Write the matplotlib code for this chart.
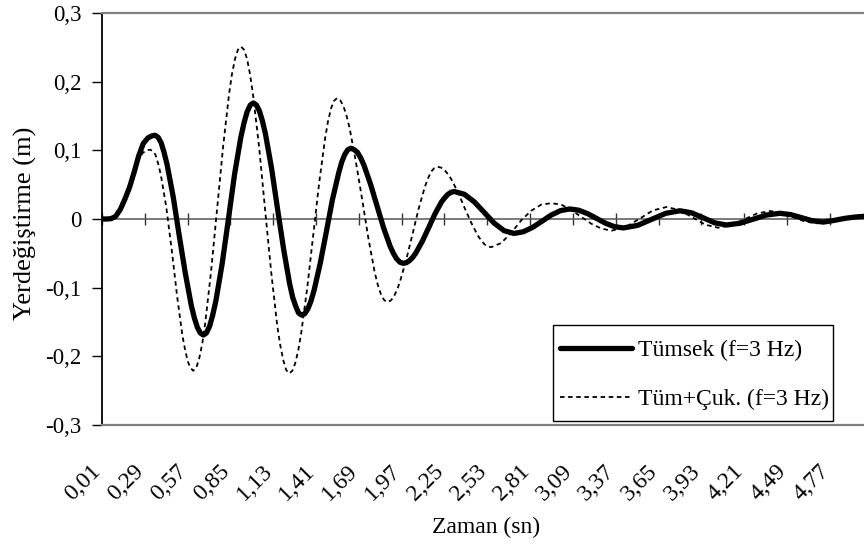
import matplotlib
matplotlib.use("Agg")
import matplotlib.pyplot as plt
import matplotlib.transforms as mtransforms
from matplotlib.patches import Rectangle

plt.rcParams['font.family'] = ['Liberation Serif', 'DejaVu Serif']

# Tümsek (bump) response, f = 3 Hz
t_tumsek = [0.01, 0.04, 0.07, 0.10, 0.13, 0.16, 0.19, 0.22, 0.25, 0.28, 0.31, 0.335,
            0.357, 0.377, 0.397, 0.416, 0.436, 0.476, 0.515, 0.555, 0.594, 0.614, 0.634, 0.653,
            0.673, 0.693, 0.714, 0.734, 0.755, 0.796, 0.837, 0.877, 0.918, 0.939, 0.959, 0.980,
            1.0, 1.020, 1.040, 1.059, 1.079, 1.119, 1.158, 1.198, 1.237, 1.257, 1.277, 1.296,
            1.316, 1.336, 1.356, 1.376, 1.397, 1.437, 1.477, 1.517, 1.558, 1.578, 1.598, 1.618,
            1.638, 1.659, 1.681, 1.702, 1.724, 1.766, 1.809, 1.852, 1.895, 1.916, 1.937, 1.959,
            1.98, 2.001, 2.022, 2.043, 2.064, 2.106, 2.148, 2.189, 2.231, 2.252, 2.273, 2.294,
            2.315, 2.38, 2.445, 2.51, 2.575, 2.64,
            2.705, 2.766, 2.827, 2.888, 2.948, 3.009,
            3.07, 3.128, 3.187, 3.245, 3.303, 3.362,
            3.42, 3.513, 3.605, 3.698, 3.79, 3.866, 3.943, 4.019,
            4.095, 4.182, 4.27, 4.357, 4.444, 4.515, 4.586, 4.657,
            4.728, 4.80, 4.87, 4.94, 5.0]
y_tumsek = [0, 0, 0.0005, 0.004, 0.014, 0.029, 0.046, 0.068, 0.092, 0.110, 0.118, 0.121,
            0.122, 0.119, 0.111, 0.097, 0.079, 0.032, -0.024, -0.079, -0.126, -0.144, -0.158, -0.166,
            -0.169, -0.166, -0.156, -0.140, -0.119, -0.065, 0.0, 0.065, 0.119, 0.140, 0.156, 0.166,
            0.169, 0.166, 0.157, 0.143, 0.124, 0.074, 0.015, -0.044, -0.094, -0.114, -0.127, -0.137,
            -0.140, -0.138, -0.131, -0.120, -0.104, -0.065, -0.019, 0.028, 0.067, 0.083, 0.094, 0.101,
            0.103, 0.101, 0.097, 0.089, 0.078, 0.051, 0.019, -0.013, -0.040, -0.050, -0.058, -0.063,
            -0.0645, -0.0636, -0.0605, -0.0557, -0.049, -0.032, -0.012, 0.008, 0.025, 0.031, 0.036, 0.039,
            0.040, 0.036, 0.025, 0.0095, -0.006, -0.017,
            -0.021, -0.0186, -0.0121, -0.0032, 0.0057, 0.0122,
            0.0146, 0.0128, 0.0077, 0.0008, -0.0061, -0.0112,
            -0.013, -0.0093, -0.0005, 0.0083, 0.012, 0.0090, 0.0017, -0.0057,
            -0.0087, -0.0062, -0.0002, 0.0058, 0.0083, 0.0064, 0.0019, -0.0026,
            -0.0045, -0.002, 0.001, 0.003, 0.004]

# Tümsek + Çukur (bump + pit) response, f = 3 Hz
t_tumcuk = [0.01, 0.04, 0.07, 0.10, 0.13, 0.16, 0.19, 0.22, 0.25, 0.275, 0.30,
            0.324, 0.342, 0.359, 0.377, 0.395, 0.430, 0.466, 0.501, 0.536, 0.554, 0.572, 0.589,
            0.607, 0.627, 0.646, 0.666, 0.685, 0.724, 0.763, 0.802, 0.841, 0.860, 0.880, 0.899,
            0.919, 0.939, 0.959, 0.978, 0.998, 1.038, 1.077, 1.117, 1.156, 1.176, 1.196, 1.215,
            1.235, 1.255, 1.274, 1.294, 1.313, 1.352, 1.391, 1.430, 1.469, 1.488, 1.508, 1.527,
            1.547, 1.568, 1.588, 1.609, 1.629, 1.670, 1.712, 1.753, 1.794, 1.814, 1.835, 1.855,
            1.876, 1.897, 1.917, 1.938, 1.958, 1.999, 2.040, 2.081, 2.122, 2.142, 2.163, 2.183,
            2.204, 2.226, 2.248, 2.270, 2.292, 2.336, 2.380, 2.424, 2.468, 2.490, 2.512, 2.534,
            2.556, 2.621, 2.687, 2.752, 2.817, 2.883,
            2.948, 3.014, 3.080, 3.146, 3.211, 3.277,
            3.343, 3.433, 3.523, 3.613, 3.703, 3.787, 3.872, 3.956,
            4.04, 4.125, 4.21, 4.294, 4.379, 4.455, 4.532, 4.608,
            4.684, 4.76, 4.84, 4.92, 5.0]
y_tumcuk = [0, 0, 0.0005, 0.004, 0.014, 0.029, 0.046, 0.067, 0.086, 0.096, 0.100,
            0.101, 0.099, 0.094, 0.081, 0.064, 0.018, -0.045, -0.112, -0.170, -0.191, -0.208, -0.217,
            -0.221, -0.2165, -0.203, -0.181, -0.152, -0.075, 0.015, 0.105, 0.182, 0.211, 0.233, 0.2465,
            0.251, 0.2465, 0.233, 0.211, 0.181, 0.104, 0.013, -0.078, -0.155, -0.184, -0.206, -0.220,
            -0.225, -0.221, -0.210, -0.191, -0.166, -0.101, -0.025, 0.052, 0.117, 0.142, 0.161, 0.172,
            0.176, 0.173, 0.165, 0.151, 0.133, 0.084, 0.028, -0.029, -0.078, -0.096, -0.110, -0.118,
            -0.121, -0.119, -0.114, -0.104, -0.092, -0.060, -0.023, 0.015, 0.047, 0.059, 0.069, 0.074,
            0.076, 0.075, 0.072, 0.066, 0.059, 0.040, 0.017, -0.005, -0.024, -0.031, -0.037, -0.040,
            -0.041, -0.035, -0.020, -0.002, 0.012, 0.021,
            0.023, 0.021, 0.013, 0.003, -0.007, -0.014,
            -0.017, -0.012, 0.000, 0.0125, 0.0175, 0.013, 0.0024, -0.0083,
            -0.0127, -0.0091, -0.0006, 0.0080, 0.0116, 0.0090, 0.0027, -0.0037,
            -0.0063, -0.003, 0.001, 0.003, 0.004]

x_ticks = [0.01, 0.29, 0.57, 0.85, 1.13, 1.41, 1.69, 1.97, 2.25, 2.53,
           2.81, 3.09, 3.37, 3.65, 3.93, 4.21, 4.49, 4.77]
x_labels = [f"{v:.2f}".replace('.', ',') for v in x_ticks]
y_ticks = [-0.3, -0.2, -0.1, 0.0, 0.1, 0.2, 0.3]
y_labels = ['-0,3', '-0,2', '-0,1', '0', '0,1', '0,2', '0,3']

W, H = 864, 555
fig = plt.figure(figsize=(W / 100, H / 100), dpi=100)
ax = fig.add_axes([102 / W, 1 - 425 / H, 762 / W, 412 / H])

ax.plot(t_tumsek, y_tumsek, color='black', lw=3.8, solid_joinstyle='round',
        solid_capstyle='round', label='Tümsek (f=3 Hz)')
ax.plot(t_tumcuk, y_tumcuk, color='black', lw=1.3, linestyle=(0, (2.5, 2)),
        label='Tüm+Çuk. (f=3 Hz)')

ax.set_xlim(0.01, 4.994)
ax.set_ylim(-0.3, 0.3)

# zero line with category tick marks
ax.axhline(0, color='#555555', lw=1.1, zorder=1)
zax = ax.secondary_xaxis(0.5)
zax.set_xticks(x_ticks)
zax.tick_params(axis='x', direction='inout', length=8, width=1, color='#333333',
                labeltop=False, labelbottom=False)
for s in zax.spines.values():
    s.set_visible(False)

ax.set_xticks(x_ticks, x_labels, rotation=45, ha='right', va='center',
              rotation_mode='anchor')
ax.tick_params(axis='x', length=0, pad=31, labelsize=17)
shift = mtransforms.ScaledTranslation(-4 / 100, 0, fig.dpi_scale_trans)
for lbl in ax.get_xticklabels():
    lbl.set_transform(lbl.get_transform() + shift)
ax.set_yticks(y_ticks, y_labels)
ax.tick_params(axis='y', length=7, width=1, pad=8, labelsize=16.5)

ax.spines['left'].set_color('black')
ax.spines['left'].set_linewidth(1.3)
for side in ('top', 'bottom'):
    ax.spines[side].set_color('#808080')
    ax.spines[side].set_linewidth(1.6)
ax.spines['right'].set_visible(False)

ax.set_xlabel('Zaman (sn)', fontsize=17)
ax.xaxis.set_label_coords(0.504, -0.222)
ax.set_ylabel('Yerdeğiştirme (m)', fontsize=19)
ax.yaxis.set_label_coords(-0.085, 0.49)

# legend box
ax.add_patch(Rectangle((553 / W, 1 - 421 / H), 280 / W, 96 / H,
                       transform=fig.transFigure, facecolor='white',
                       edgecolor='black', lw=1.0, clip_on=False, zorder=4))
leg = ax.legend(loc='center left', bbox_to_anchor=(560 / W, 1 - 375 / H),
                bbox_transform=fig.transFigure, borderaxespad=0, borderpad=0,
                fontsize=17, frameon=False, handlelength=3.05,
                handletextpad=0.25, labelspacing=1.16)
leg.set_zorder(5)

fig.savefig('out.png', dpi=100)
